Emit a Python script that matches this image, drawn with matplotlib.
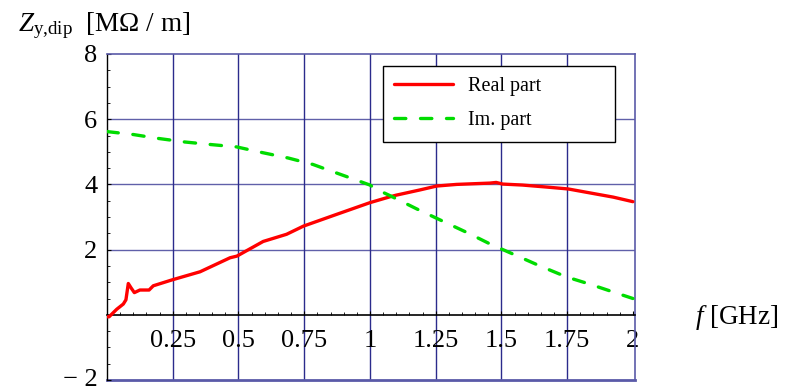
import matplotlib.pyplot as plt
from matplotlib.ticker import MultipleLocator, FixedLocator
from matplotlib.transforms import ScaledTranslation

plt.rcParams["font.family"] = ["Liberation Serif", "DejaVu Serif"]
plt.rcParams["mathtext.fontset"] = "custom"
plt.rcParams["mathtext.rm"] = "Liberation Serif"
plt.rcParams["mathtext.it"] = "Liberation Serif:italic"

# Real part of the dipolar vertical impedance [MOhm/m] vs frequency [GHz]
freq_re = [0.0, 0.008, 0.037, 0.062, 0.072, 0.081, 0.092, 0.104, 0.125, 0.16,
           0.176, 0.247, 0.354, 0.468, 0.494, 0.594, 0.683, 0.747, 0.873, 1.0,
           1.076, 1.10, 1.19, 1.254, 1.33, 1.456, 1.48, 1.505, 1.58, 1.67,
           1.754, 1.836, 1.925, 2.0]
z_re = [-0.06, -0.06, 0.17, 0.33, 0.46, 0.96, 0.82, 0.68, 0.76, 0.76,
        0.89, 1.07, 1.32, 1.75, 1.80, 2.25, 2.47, 2.72, 3.08, 3.44,
        3.62, 3.67, 3.83, 3.95, 4.0, 4.04, 4.06, 4.01, 3.98, 3.92,
        3.86, 3.74, 3.61, 3.47]

# Imaginary part
freq_im = [0.0, 0.011, 0.10, 0.195, 0.297, 0.398, 0.493, 0.594, 0.689, 0.784,
           0.835, 0.918, 1.0, 1.025, 1.08, 1.18, 1.28, 1.37, 1.46, 1.545,
           1.646, 1.748, 1.836, 1.925, 2.0]
z_im = [5.62, 5.61, 5.53, 5.41, 5.30, 5.22, 5.15, 4.97, 4.81, 4.61,
        4.46, 4.22, 3.98, 3.85, 3.64, 3.24, 2.86, 2.52, 2.16, 1.86,
        1.50, 1.16, 0.94, 0.70, 0.50]

x_ticks = [0.25, 0.5, 0.75, 1, 1.25, 1.5, 1.75, 2]
x_tick_labels = ["0.25", "0.5", "0.75", "1", "1.25", "1.5", "1.75", "2"]
y_ticks = [-2, 2, 4, 6, 8]
y_tick_labels = ["\u2212 2", "2", "4", "6", "8"]

W, H = 787, 390
grid_col = "#2b2b8c"
frame_col = "#5a5aa8"

fig = plt.figure(figsize=(W / 100, H / 100), dpi=100)
ax = fig.add_axes([107 / W, 10 / H, 528 / W, 326 / H])
x_lim = (0, 2.008)
y_lim = (-2.0, 8.0)
ax.set_xlim(*x_lim)
ax.set_ylim(*y_lim)

# grid lines
for xv in x_ticks[:-1]:
    ax.axvline(xv, color=grid_col, lw=1.0, zorder=1)
for yv in [2, 4, 6]:
    ax.axhline(yv, color=grid_col, lw=1.0, alpha=0.75, zorder=1)

# frame: left axis black, others bluish; x axis crosses at zero
for side in ["top", "right"]:
    ax.spines[side].set_color(frame_col)
    ax.spines[side].set_linewidth(1.2)
ax.spines["left"].set_color("black")
ax.spines["left"].set_linewidth(1.0)
ax.spines["bottom"].set_position(("data", 0))
ax.spines["bottom"].set_color("black")
ax.spines["bottom"].set_linewidth(1.2)
ax.axhline(y_lim[0], color=frame_col, lw=2.0, zorder=1, clip_on=False)

ax.plot(freq_re, z_re, color="#ff0000", lw=2.4, solid_joinstyle="round",
        solid_capstyle="round", label="Real part", zorder=3)
ax.plot(freq_im, z_im, color="#00dc00", lw=2.4, dashes=(3.4, 4.4),
        dash_capstyle="round", label="Im. part", zorder=4)

ax.xaxis.set_major_locator(FixedLocator(x_ticks))
ax.xaxis.set_minor_locator(MultipleLocator(0.05))
ax.set_xticklabels(x_tick_labels)
ax.yaxis.set_major_locator(FixedLocator(y_ticks))
ax.yaxis.set_minor_locator(MultipleLocator(0.5))
ax.set_yticklabels(y_tick_labels)

ax.tick_params(axis="x", which="both", direction="in", labelsize=19, pad=11,
               color="black")
ax.tick_params(axis="x", which="major", length=3)
ax.tick_params(axis="x", which="minor", length=2.5)
ax.tick_params(axis="y", which="both", direction="in", labelsize=19, pad=7,
               color="black")
ax.tick_params(axis="y", which="major", length=3)
ax.tick_params(axis="y", which="minor", length=2.5)

# lift the bottom label a little so it stays inside the figure
bottom_lbl = ax.get_yticklabels()[0]
bottom_lbl.set_transform(bottom_lbl.get_transform()
                         + ScaledTranslation(0, 3 / 100, fig.dpi_scale_trans))

leg = ax.legend(loc="upper left", bbox_to_anchor=(0.523, 0.730, 0.439, 0.233),
                mode="expand", borderaxespad=0, fontsize=14.5, frameon=True,
                fancybox=False, framealpha=1, edgecolor="black",
                handlelength=2.9, handletextpad=0.75, borderpad=0.55,
                labelspacing=0.75)
leg.get_frame().set_linewidth(1.0)

fig.text(18 / W, 1 - 26 / H, r"$Z_{\mathrm{y{,}dip}}$  [M$\Omega$ / m]",
         fontsize=19.5, va="center", ha="left")
fig.text(695 / W, 1 - 318 / H, r"$f$ [GHz]", fontsize=19.5, va="center",
         ha="left")

fig.savefig("out.png", dpi=100)
